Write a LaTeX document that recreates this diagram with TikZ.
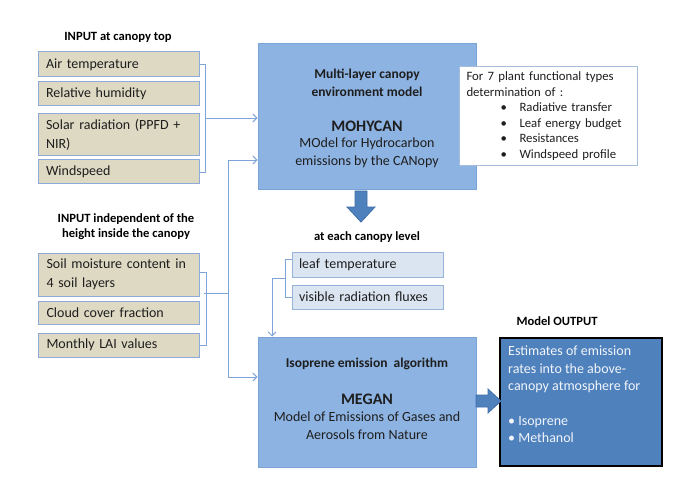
\documentclass[tikz,border=0pt]{standalone}
\usepackage{fontspec}
\setmainfont{Carlito}
\usetikzlibrary{arrows.meta}
\definecolor{beige}{HTML}{DDD9C3}
\definecolor{beigeline}{HTML}{8EAADB}
\definecolor{mainblue}{HTML}{8DB3E2}
\definecolor{mainline}{HTML}{7AA3D8}
\definecolor{lightblue}{HTML}{DBE5F1}
\definecolor{lightline}{HTML}{95B3D7}
\definecolor{connector}{HTML}{7FA5D8}
\definecolor{darkblue}{HTML}{4F81BD}
\definecolor{arrowline}{HTML}{3F6FAA}
\definecolor{infoline}{HTML}{A6BEDD}
\definecolor{textdark}{HTML}{1E1E1E}
\tikzset{
  inbox/.style={draw=beigeline, fill=beige, line width=1pt, text width=145pt,
    inner xsep=8pt, inner ysep=0pt, align=left, text=textdark,
    font=\fontsize{14}{19}\selectfont},
  levelbox/.style={draw=lightline, fill=lightblue, line width=1pt, text width=137pt,
    inner xsep=7pt, inner ysep=0pt, align=left, text=textdark,
    font=\fontsize{14}{19}\selectfont},
  mainbox/.style={draw=mainline, fill=mainblue, line width=1pt, inner sep=0pt},
  outbox/.style={draw=black, fill=darkblue, line width=2.5pt, inner sep=0pt},
  infobox/.style={draw=infoline, fill=white, line width=1pt, text width=164pt,
    inner xsep=7pt, inner ysep=0pt, align=left, text=textdark,
    font=\fontsize{12.75}{15.5}\selectfont},
  titletext/.style={font=\bfseries\fontsize{12.6}{15.5}\selectfont, align=center, inner sep=0pt, text=black},
  subtitle/.style={font=\bfseries\fontsize{13.5}{18}\selectfont, align=center, inner sep=0pt, text=textdark},
  bigname/.style={font=\bfseries\fontsize{16}{19}\selectfont, align=center, inner sep=0pt, text=textdark},
  desc/.style={font=\fontsize{14}{18}\selectfont, align=center, inner sep=0pt, text=textdark},
  conn/.style={draw=connector, line width=0.9pt},
  arr/.style={conn, -{Straight Barb[length=4pt,width=8pt]}},
  bigarrow/.style={fill=darkblue, draw=arrowline, line width=0.8pt},
}
\begin{document}
\begin{tikzpicture}[x=1pt,y=-1pt]
\useasboundingbox[fill=white] (0,0) rectangle (700,494);

% input group 1
\node[titletext] (t1) at (118,37) {INPUT at canopy top};
\node[inbox, minimum height=25pt] (air) at (118.5,64.5) {Air temperature};
\node[inbox, minimum height=24pt] (rel) at (118.5,94) {Relative humidity};
\node[inbox, minimum height=42pt] (solar) at (118.5,135) {Solar radiation (PPFD +\\NIR)};
\node[inbox, minimum height=24pt] (wind) at (118.5,172) {Windspeed};

% input group 2
\node[titletext] (t2) at (126,226.5) {INPUT independent of the\\height inside the canopy};
\node[inbox, minimum height=43pt] (soil) at (119,274.5) {Soil moisture content in\\4 soil layers};
\node[inbox, minimum height=23pt] (cloud) at (119,312.5) {Cloud cover fraction};
\node[inbox, minimum height=24pt] (lai) at (119,345) {Monthly LAI values};

% MOHYCAN
\node[mainbox, minimum width=218pt, minimum height=146pt] (moh) at (367,117) {};
\node[subtitle] (mohT) at (367,83) {Multi-layer canopy\\environment model};
\node[bigname] (mohN) at (367,126) {MOHYCAN};
\node[desc] (mohD) at (367,153) {MOdel for Hydrocarbon\\emissions by the CANopy};

% info box
\node[infobox, anchor=north west, minimum width=178pt, minimum height=99pt] (info) at (459,66)
 {For 7 plant functional types\\determination of :\\
  \makebox[53pt][l]{\hspace{34pt}•}Radiative transfer\\
  \makebox[53pt][l]{\hspace{34pt}•}Leaf energy budget\\
  \makebox[53pt][l]{\hspace{34pt}•}Resistances\\
  \makebox[53pt][l]{\hspace{34pt}•}Windspeed profile};

% big down arrow
\draw[bigarrow] (355,191) -- (367,191) -- (367,207) -- (375,207) -- (361,222) -- (347,207) -- (355,207) -- cycle;

% canopy level
\node[titletext] (lvl) at (367,237) {at each canopy level};
\node[levelbox, minimum height=25pt] (leaf) at (367.5,264.5) {leaf temperature};
\node[levelbox, minimum height=24pt] (vis) at (367.5,297) {visible radiation fluxes};

% MEGAN
\node[mainbox, minimum width=218pt, minimum height=130pt] (meg) at (367,402) {};
\node[subtitle] (megT) at (367,364) {Isoprene emission\ \ algorithm};
\node[bigname] (megN) at (367,399) {MEGAN};
\node[desc] (megD) at (367,426) {Model of Emissions of Gases and\\Aerosols from Nature};

% output
\node[titletext] (outT) at (557,321) {Model OUTPUT};
\node[outbox, minimum width=162pt, minimum height=128pt] (out) at (581,402) {};
\node[anchor=north west, inner sep=0pt, align=left, text=white!92!darkblue,
      font=\fontsize{14}{17.4}\selectfont] (outtxt) at (508,346)
 {Estimates of emission\\rates into the above-\\canopy atmosphere for\\[17.4pt]
  • Isoprene\\• Methanol};

% right block arrow
\draw[bigarrow] (476,395) -- (488,395) -- (488,389) -- (501,401) -- (488,413) -- (488,407) -- (476,407) -- cycle;

% connectors group 1
\draw[conn] (air.east) -- ++(6,0) |- (wind.east);
\coordinate (b1) at (205,118);
\draw[arr] (b1) -- (b1 -| moh.west);
\coordinate (v1) at (228,160);
\coordinate (v2) at (228,377);
\draw[arr] (v2) -- (v1) -- (v1 -| moh.west);
\draw[arr] (v2) -- (v2 -| meg.west);

% connectors group 2
\draw[conn] ([yshift=2pt]soil.east) -- ++(6,0) |- (lai.east);
\coordinate (b2) at (204,293);
\draw[conn] (b2) -- (b2 -| v1);

% canopy level bracket
\draw[conn] ([yshift=5.5pt]leaf.west) -- ++(-6,0) |- (vis.west);
\coordinate (b3) at (286,278);
\coordinate (b4) at (272,278);
\draw[arr] (b3) -- (b4) -- (b4 |- meg.north);
\end{tikzpicture}
\end{document}
